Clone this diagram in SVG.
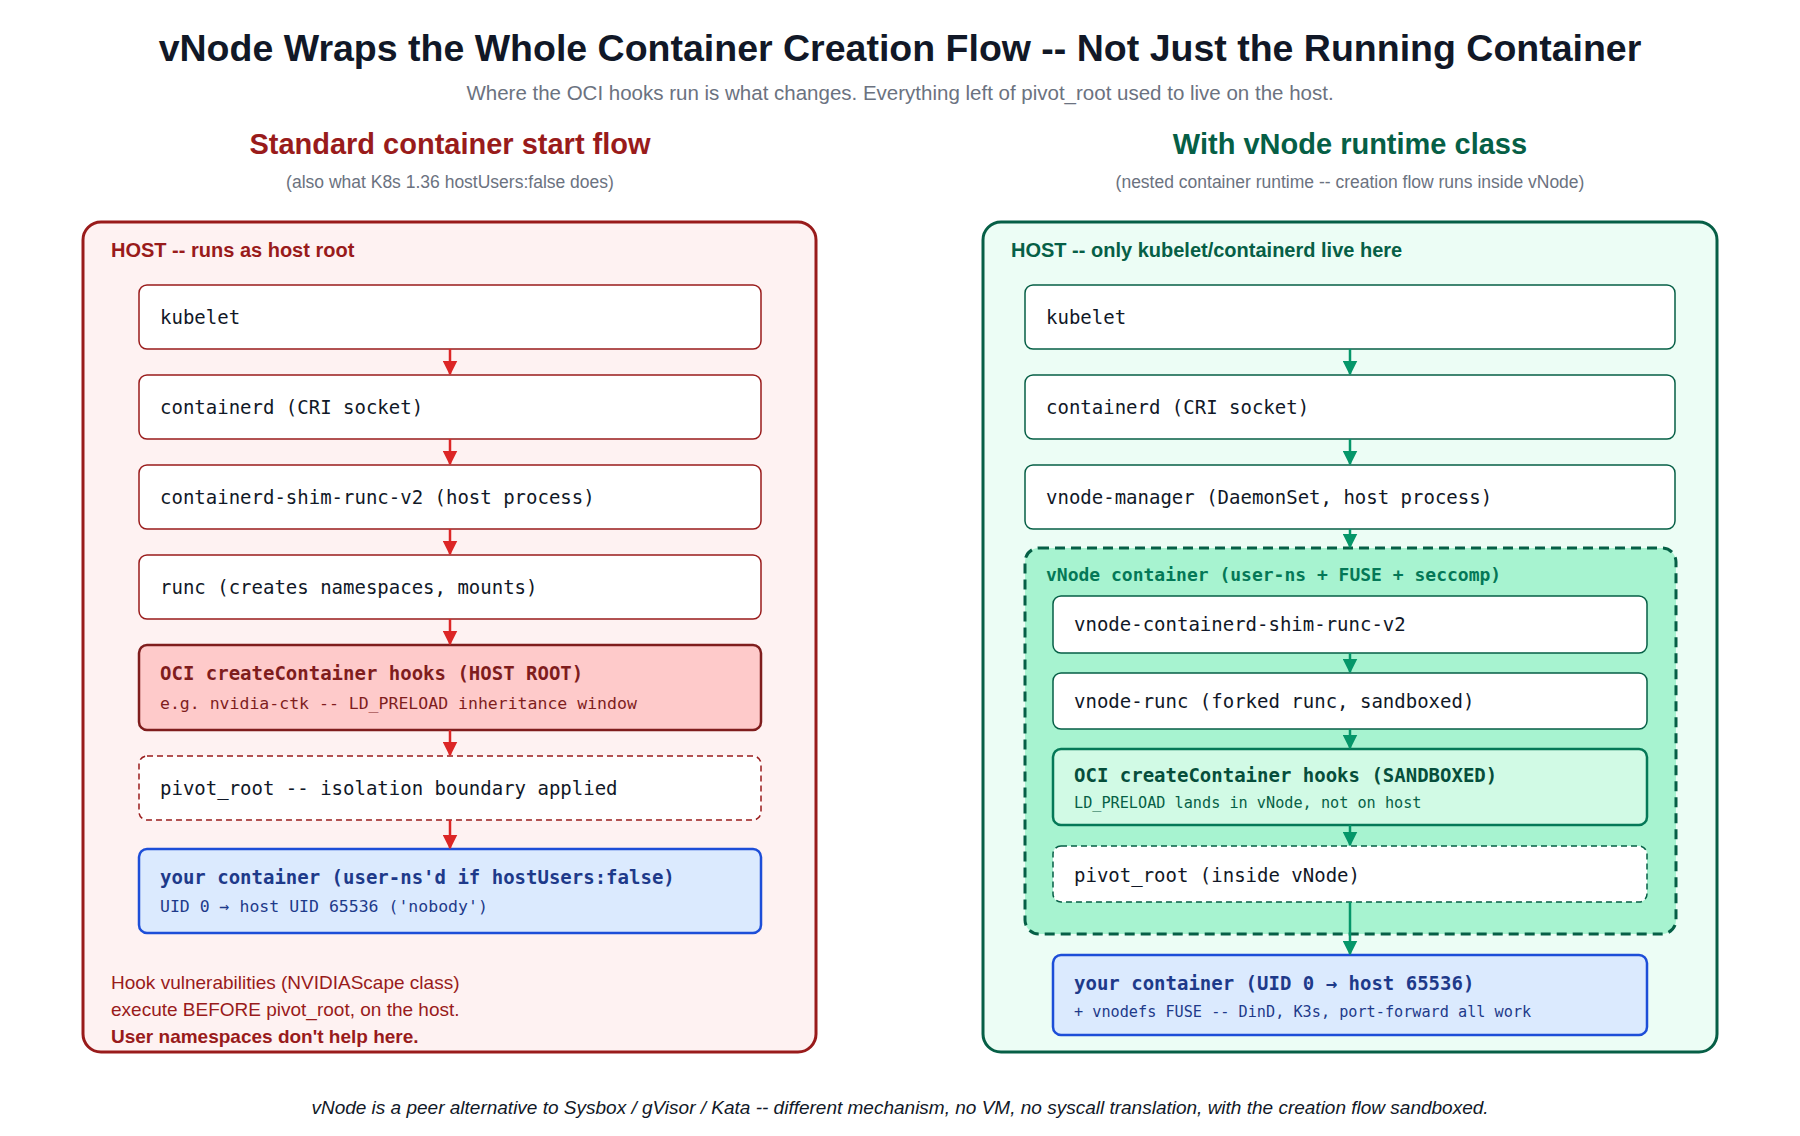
<svg xmlns="http://www.w3.org/2000/svg" width="1800" height="1136" viewBox="0 0 1800 1136">
<style>
.t{font-family:"Liberation Sans",Arial,sans-serif}
.m{font-family:"DejaVu Sans Mono","Liberation Mono",monospace;font-size:19px;fill:#111827}
.ms{font-family:"DejaVu Sans Mono","Liberation Mono",monospace;font-size:16px}
.bl{fill:#fff;stroke:#991b1b;stroke-width:1.5}
.bg{fill:#fff;stroke:#065f46;stroke-width:1.5}
.ar{stroke:#dc2626;stroke-width:2.5;fill:none}
.ag{stroke:#059669;stroke-width:2.5;fill:none}
</style>
<defs>
<marker id="mr" viewBox="0 0 10 10" refX="9" refY="5" markerWidth="6" markerHeight="6" orient="auto" markerUnits="strokeWidth"><path d="M0,0L10,5L0,10z" fill="#dc2626"/></marker>
<marker id="mg" viewBox="0 0 10 10" refX="9" refY="5" markerWidth="6" markerHeight="6" orient="auto" markerUnits="strokeWidth"><path d="M0,0L10,5L0,10z" fill="#059669"/></marker>
</defs>
<rect width="1800" height="1136" fill="#fff"/>
<text class="t" x="900" y="61" text-anchor="middle" font-size="37.5" font-weight="bold" fill="#111827">vNode Wraps the Whole Container Creation Flow -- Not Just the Running Container</text>
<text class="t" x="900" y="100" text-anchor="middle" font-size="20.5" fill="#6b7280">Where the OCI hooks run is what changes. Everything left of pivot_root used to live on the host.</text>
<text class="t" x="450" y="154" text-anchor="middle" font-size="29" font-weight="bold" fill="#991b1b">Standard container start flow</text>
<text class="t" x="450" y="188" text-anchor="middle" font-size="17.5" fill="#6b7280">(also what K8s 1.36 hostUsers:false does)</text>
<text class="t" x="1350" y="154" text-anchor="middle" font-size="29" font-weight="bold" fill="#065f46">With vNode runtime class</text>
<text class="t" x="1350" y="188" text-anchor="middle" font-size="17.5" fill="#6b7280">(nested container runtime -- creation flow runs inside vNode)</text>

<g id="left-panel">
<rect x="83" y="222" width="733" height="830" rx="18" fill="#fef2f2" stroke="#991b1b" stroke-width="3"/>
<text class="t" x="111" y="257" font-size="20" font-weight="bold" fill="#991b1b">HOST -- runs as host root</text>
<text class="t" x="111" y="989" font-size="19" fill="#991b1b">Hook vulnerabilities (NVIDIAScape class)</text>
<text class="t" x="111" y="1016" font-size="19" fill="#991b1b">execute BEFORE pivot_root, on the host.</text>
<text class="t" x="111" y="1043" font-size="19" font-weight="bold" fill="#991b1b">User namespaces don't help here.</text>
</g>
<g id="l-kubelet"><rect class="bl" x="139" y="285" width="622" height="64" rx="8"/><text class="m" x="160" y="324">kubelet</text></g>
<g id="l-containerd"><rect class="bl" x="139" y="375" width="622" height="64" rx="8"/><text class="m" x="160" y="414">containerd (CRI socket)</text></g>
<g id="l-shim"><rect class="bl" x="139" y="465" width="622" height="64" rx="8"/><text class="m" x="160" y="504">containerd-shim-runc-v2 (host process)</text></g>
<g id="l-runc"><rect class="bl" x="139" y="555" width="622" height="64" rx="8"/><text class="m" x="160" y="594">runc (creates namespaces, mounts)</text></g>
<g id="l-oci"><rect x="139" y="645" width="622" height="85" rx="8" fill="#fecaca" stroke="#7f1d1d" stroke-width="2.5"/><text class="m" x="160" y="680" font-weight="bold" style="fill:#7f1d1d">OCI createContainer hooks (HOST ROOT)</text><text class="ms" x="160" y="709" fill="#7f1d1d" style="font-size:16.5px">e.g. nvidia-ctk -- LD_PRELOAD inheritance window</text></g>
<g id="l-pivot"><rect x="139" y="756" width="622" height="64" rx="8" fill="#fff" stroke="#991b1b" stroke-width="1.5" stroke-dasharray="6,4"/><text class="m" x="160" y="795">pivot_root -- isolation boundary applied</text></g>
<g id="l-your"><rect x="139" y="849" width="622" height="84" rx="8" fill="#dbeafe" stroke="#1d4ed8" stroke-width="2.5"/><text class="m" x="160" y="884" font-weight="bold" style="fill:#1e3a8a">your container (user-ns'd if hostUsers:false)</text><text class="ms" x="160" y="912" fill="#1e3a8a" style="font-size:16.5px">UID 0 → host UID 65536 ('nobody')</text></g>

<g id="right-panel">
<rect x="983" y="222" width="734" height="830" rx="18" fill="#ecfdf5" stroke="#065f46" stroke-width="3"/>
<text class="t" x="1011" y="257" font-size="20" font-weight="bold" fill="#065f46">HOST -- only kubelet/containerd live here</text>
</g>
<g id="r-kubelet"><rect class="bg" x="1025" y="285" width="650" height="64" rx="8"/><text class="m" x="1046" y="324">kubelet</text></g>
<g id="r-containerd"><rect class="bg" x="1025" y="375" width="650" height="64" rx="8"/><text class="m" x="1046" y="414">containerd (CRI socket)</text></g>
<g id="r-manager"><rect class="bg" x="1025" y="465" width="650" height="64" rx="8"/><text class="m" x="1046" y="504">vnode-manager (DaemonSet, host process)</text></g>
<g id="vnode-container"><rect x="1025" y="548" width="651" height="386" rx="14" fill="#a7f3d0" stroke="#065f46" stroke-width="3" stroke-dasharray="10,6"/><text class="ms" x="1046" y="581" font-weight="bold" fill="#047857" style="font-size:18px">vNode container (user-ns + FUSE + seccomp)</text></g>
<g id="r-shim"><rect class="bg" x="1053" y="596" width="594" height="57" rx="8"/><text class="m" x="1074" y="631">vnode-containerd-shim-runc-v2</text></g>
<g id="r-runc"><rect class="bg" x="1053" y="673" width="594" height="56" rx="8"/><text class="m" x="1074" y="708">vnode-runc (forked runc, sandboxed)</text></g>
<g id="r-oci"><rect x="1053" y="749" width="594" height="76" rx="8" fill="#d1fae5" stroke="#047857" stroke-width="2.5"/><text class="m" x="1074" y="782" font-weight="bold" style="fill:#064e3b">OCI createContainer hooks (SANDBOXED)</text><text class="ms" x="1074" y="808" fill="#065f46" style="font-size:15.2px">LD_PRELOAD lands in vNode, not on host</text></g>
<g id="r-pivot"><rect x="1053" y="846" width="594" height="56" rx="8" fill="#fff" stroke="#065f46" stroke-width="1.5" stroke-dasharray="6,4"/><text class="m" x="1074" y="882">pivot_root (inside vNode)</text></g>
<g id="r-your"><rect x="1053" y="955" width="594" height="80" rx="8" fill="#dbeafe" stroke="#1d4ed8" stroke-width="2.5"/><text class="m" x="1074" y="990" font-weight="bold" style="fill:#1e3a8a">your container (UID 0 → host 65536)</text><text class="ms" x="1074" y="1017" fill="#1e3a8a" style="font-size:15.2px">+ vnodefs FUSE -- DinD, K3s, port-forward all work</text></g>

<g id="connectors">
<line class="ar" x1="450" y1="349" x2="450" y2="374" marker-end="url(#mr)"/>
<line class="ar" x1="450" y1="439" x2="450" y2="464" marker-end="url(#mr)"/>
<line class="ar" x1="450" y1="529" x2="450" y2="554" marker-end="url(#mr)"/>
<line class="ar" x1="450" y1="619" x2="450" y2="644" marker-end="url(#mr)"/>
<line class="ar" x1="450" y1="730" x2="450" y2="755" marker-end="url(#mr)"/>
<line class="ar" x1="450" y1="820" x2="450" y2="848" marker-end="url(#mr)"/>
<line class="ag" x1="1350" y1="349" x2="1350" y2="374" marker-end="url(#mg)"/>
<line class="ag" x1="1350" y1="439" x2="1350" y2="464" marker-end="url(#mg)"/>
<line class="ag" x1="1350" y1="529" x2="1350" y2="547" marker-end="url(#mg)"/>
<line class="ag" x1="1350" y1="653" x2="1350" y2="672" marker-end="url(#mg)"/>
<line class="ag" x1="1350" y1="729" x2="1350" y2="748" marker-end="url(#mg)"/>
<line class="ag" x1="1350" y1="825" x2="1350" y2="845" marker-end="url(#mg)"/>
<line class="ag" x1="1350" y1="902" x2="1350" y2="954" marker-end="url(#mg)"/>
</g>
<text class="t" x="900" y="1114" text-anchor="middle" font-size="19" font-style="italic" fill="#111827">vNode is a peer alternative to Sysbox / gVisor / Kata -- different mechanism, no VM, no syscall translation, with the creation flow sandboxed.</text>
</svg>
